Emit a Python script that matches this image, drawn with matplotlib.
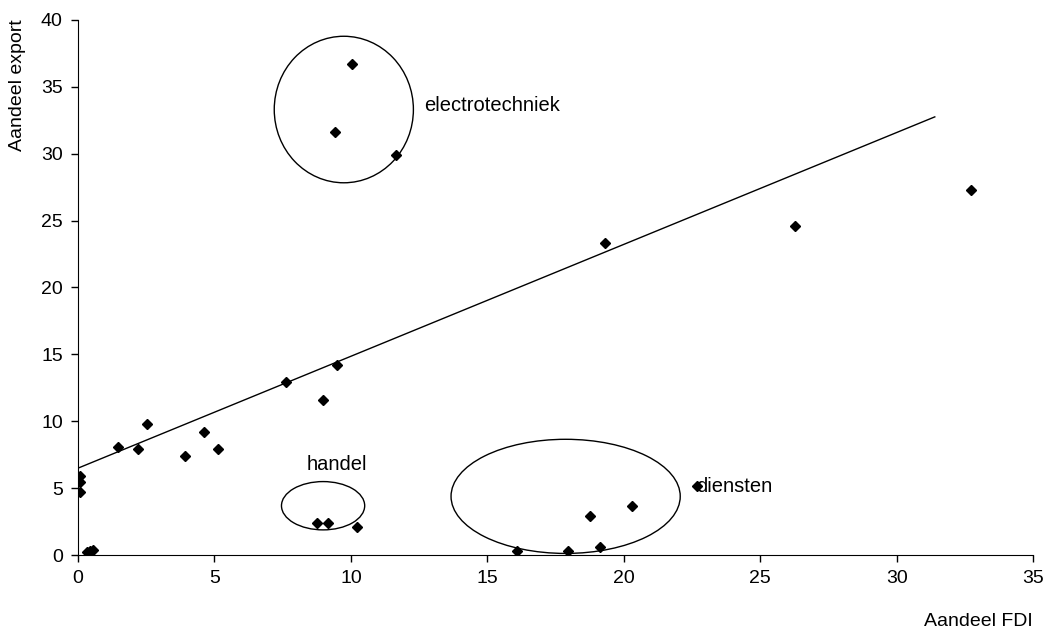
import matplotlib
matplotlib.use("Agg")
import matplotlib.pyplot as plt
from matplotlib.patches import Ellipse
import numpy as np

plt.rcParams['font.family'] = ['Liberation Sans', 'DejaVu Sans']

# share of FDI vs share of export per sector
fdi = [0.08, 0.08, 0.08, 0.32, 0.44, 0.56, 1.45, 2.19, 2.54, 3.93, 4.62, 5.12,
       7.61, 8.98, 9.48, 8.76, 9.16, 10.24, 10.05, 9.40, 11.66,
       16.08, 17.97, 18.76, 19.14, 20.31, 22.70, 19.32, 26.26, 32.73]
export = [5.9, 5.5, 4.7, 0.2, 0.3, 0.4, 8.1, 7.9, 9.8, 7.4, 9.2, 7.9,
          12.9, 11.6, 14.2, 2.4, 2.4, 2.1, 36.7, 31.6, 29.9,
          0.3, 0.3, 2.9, 0.6, 3.7, 5.2, 23.3, 24.6, 27.3]

# trend line (as drawn in the original)
trend_intercept = 6.5
trend_slope = 0.836
trend_x = [0, 31.4]

# groups circled in the chart: label, centre, width, height, label position
groups = [
    ("electrotechniek", (9.74, 33.3), 5.1, 10.95, (12.68, 33.6)),
    ("handel", (8.98, 3.69), 3.05, 3.61, (8.37, 6.75)),
    ("diensten", (17.87, 4.39), 8.4, 8.53, (22.65, 5.15)),
]

fig = plt.figure(figsize=(10.48, 6.41), dpi=100)
ax = fig.add_axes([0.0745, 0.134, 0.9112, 0.835])

tx = np.array(trend_x)
ax.plot(tx, trend_intercept + trend_slope * tx, color='black', lw=1)
ax.plot(fdi, export, linestyle='none', marker='D', markersize=5, color='black')

for name, centre, w, h, pos in groups:
    ax.add_patch(Ellipse(centre, w, h, fill=False, edgecolor='black', lw=1))
    ax.text(pos[0], pos[1], name, fontsize=14.5, va='center', ha='left')

ax.set_xlim(0, 35)
ax.set_ylim(0, 40)
ax.set_xticks(range(0, 36, 5))
ax.set_yticks(range(0, 41, 5))
ax.tick_params(direction='out', length=5, labelsize=14, width=1, pad=6)
ax.spines['top'].set_visible(False)
ax.spines['right'].set_visible(False)

fig.text(0.9857, 0.03, "Aandeel FDI", ha='right', va='center', fontsize=14)
fig.text(0.017, 0.97, "Aandeel export", ha='center', va='top', rotation=90, fontsize=14)

fig.savefig("out.png", dpi=100)
